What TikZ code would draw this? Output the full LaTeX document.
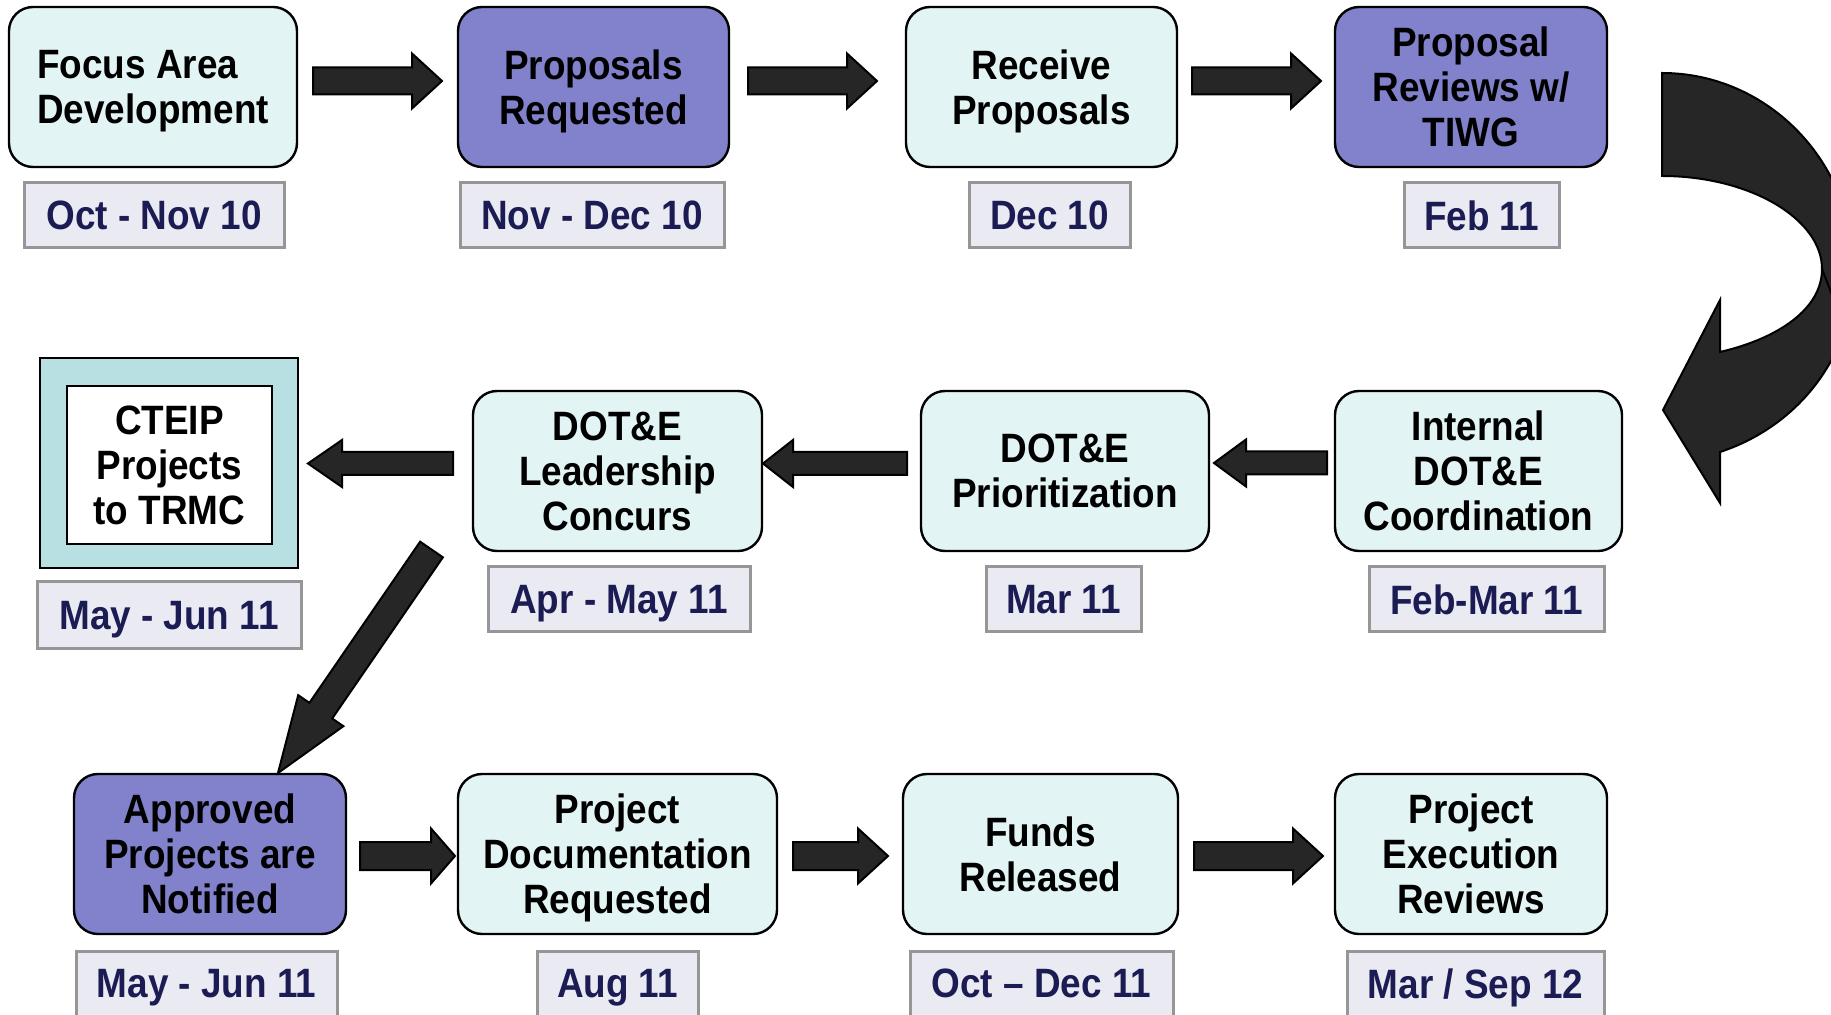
\documentclass[tikz,border=0pt]{standalone}
\usepackage{fontspec}
\setmainfont{Liberation Sans}[FakeStretch=0.9]
\usetikzlibrary{calc}
\definecolor{boxcyan}{RGB}{226,244,244}
\definecolor{boxpurple}{RGB}{130,130,204}
\definecolor{framecyan}{RGB}{184,224,226}
\definecolor{datefill}{RGB}{234,234,242}
\definecolor{dategray}{RGB}{150,150,150}
\definecolor{datenavy}{RGB}{28,28,84}
\definecolor{arrowgray}{RGB}{38,38,38}

\newcommand{\boxfont}{\fontsize{20.5}{22.5}\selectfont\bfseries}
% block arrow: tail, tip, half shaft, half head, head length
\newcommand{\blockarrow}[5]{%
  \coordinate (ba-h) at ($(#2)!#5!(#1)$);
  \draw[blockarr] ($(#1)!#3!90:(#2)$) -- ($(ba-h)!#3!90:(#2)$) -- ($(ba-h)!#4!90:(#2)$)
    -- (#2) -- ($(ba-h)!#4!-90:(#2)$) -- ($(ba-h)!#3!-90:(#2)$) -- ($(#1)!#3!-90:(#2)$) -- cycle;}

\begin{document}
\begin{tikzpicture}[x=0.5pt, y=-0.5pt,
    proc/.style={draw, line width=1.2pt, rounded corners=12pt, fill=boxcyan, text depth=0pt,
                 minimum height=80pt, align=center, font=\boxfont, inner sep=0pt},
    procp/.style={proc, fill=boxpurple},
    datebox/.style={draw=dategray, line width=1.5pt, fill=datefill, text=datenavy, text depth=0pt,
                    minimum height=32.5pt, font=\boxfont, inner sep=0pt},
    blockarr/.style={draw=black, fill=arrowgray, line width=1pt}]
  \useasboundingbox (0,0) rectangle (1831,1015);
  % row 1
  \node[proc, minimum width=144pt, align=left] (b1) at (153,87) {Focus Area\\Development};
  \node[procp, minimum width=135.5pt] (b2) at (593.5,87) {Proposals\\Requested};
  \node[proc, minimum width=135.5pt]  (b3) at (1041.5,87) {Receive\\Proposals};
  \node[procp, minimum width=136pt]   (b4) at (1471,87) {Proposal\\Reviews w/\\TIWG};
  \node[datebox, minimum width=130pt]  (d1) at (154,215.5) {Oct - Nov 10};
  \node[datebox, minimum width=132pt]  (d2) at (592,215.5) {Nov - Dec 10};
  \node[datebox, minimum width=80.5pt] (d3) at (1049.5,215.5) {Dec 10};
  \node[datebox, minimum width=77.5pt] (d4) at (1481.5,215.5) {Feb 11};
  % row 2
  \node[draw, line width=1pt, fill=framecyan, minimum width=129pt, minimum height=105pt] (c0) at (169,463) {};
  \node[draw, line width=1pt, fill=white, minimum width=102.5pt, minimum height=79pt, text depth=0pt,
        align=center, font=\boxfont, inner sep=0pt] (c1) at (169.5,465) {CTEIP\\Projects\\to TRMC};
  \node[proc, minimum width=144.5pt] (b6) at (617.5,471) {DOT\&E\\Leadership\\Concurs};
  \node[proc, minimum width=144pt]   (b7) at (1065,471) {DOT\&E\\Prioritization};
  \node[proc, minimum width=143.5pt] (b8) at (1478.5,471) {Internal\\DOT\&E\\Coordination};
  \node[datebox, minimum width=132pt, minimum height=33pt] (d5) at (169,615) {May - Jun 11};
  \node[datebox, minimum width=131pt]   (d6) at (619,599.5) {Apr - May 11};
  \node[datebox, minimum width=77.5pt]  (d7) at (1063.5,599.5) {Mar 11};
  \node[datebox, minimum width=117.5pt] (d8) at (1486.5,599.5) {Feb-Mar 11};
  % row 3
  \node[procp, minimum width=136pt]  (b9) at (210,854) {Approved\\Projects are\\Notified};
  \node[proc, minimum width=159.5pt] (b10) at (617.5,854) {Project\\Documentation\\Requested};
  \node[proc, minimum width=137.5pt] (b11) at (1040.5,854) {Funds\\Released};
  \node[proc, minimum width=136pt]   (b12) at (1471,854) {Project\\Execution\\Reviews};
  \node[datebox, minimum width=130.5pt] (d9) at (206.5,983.5) {May - Jun 11};
  \node[datebox, minimum width=80.5pt]  (d10) at (617.5,983.5) {Aug 11};
  \node[datebox, minimum width=131.5pt] (d11) at (1041.5,983.5) {Oct -- Dec 11};
  \node[datebox, minimum width=128.5pt] (d12) at (1475.5,983.5) {Mar / Sep 12};
  % straight arrows
  \foreach \n/\xa/\xb/\y/\sw/\hw/\hl in {
      1/313/442/81/6.75pt/13.75pt/15pt, 2/748/877/81/6.75pt/13.75pt/15pt,
      3/1192/1321/81/6.75pt/13.75pt/15pt,
      5/453/308/463.5/5.75pt/11.75pt/17pt, 6/907/763/463.5/5.75pt/11.75pt/15pt,
      7/1327/1214/463/5.75pt/11.75pt/16pt,
      9/360/455/856/7pt/13.75pt/12pt, 10/793/888/856/7pt/13.75pt/15pt,
      11/1194/1323/856/7pt/13.75pt/15pt}
    {\coordinate (as\n) at (\xa,\y); \coordinate (ae\n) at (\xb,\y);
     \blockarrow{as\n}{ae\n}{\sw}{\hw}{\hl}}
  % diagonal arrow
  \coordinate (ds) at (431.5,549.5);
  \coordinate (de) at (278,773);
  \blockarrow{ds}{de}{6.9pt}{13.7pt}{37.8pt}
  % curved arrow
  \draw[blockarr] (1662,73) .. controls (1768,73) and (1854,162) .. (1854,271)
    .. controls (1854,355) and (1799,426) .. (1720,452) -- (1720,503) -- (1663,410)
    -- (1720,300) -- (1720,352) .. controls (1780,338) and (1822,308) .. (1822,269)
    .. controls (1822,219) and (1750,176) .. (1662,176) -- cycle;
  \draw[line width=1pt] (1822,269) -- (1834,300);
\end{tikzpicture}
\end{document}
